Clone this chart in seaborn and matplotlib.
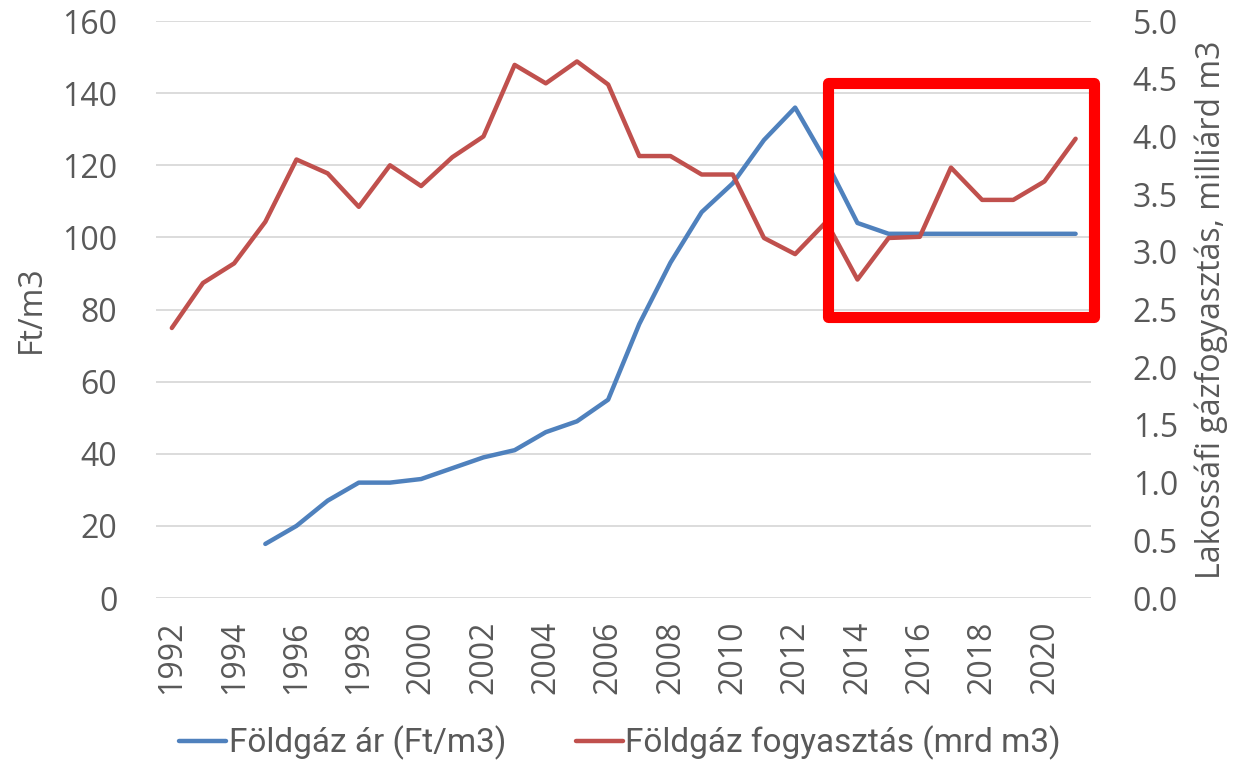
import numpy as np
import pandas as pd
import matplotlib
matplotlib.use("Agg")
import matplotlib.pyplot as plt
from matplotlib.patches import Rectangle
import seaborn as sns

years = list(range(1992, 2022))
price = [np.nan, np.nan, np.nan, 15, 20, 27, 32, 32, 33, 36, 39, 41, 46, 49, 55,
         76, 93, 107, 115, 127, 136, 121, 104, 101, 101, 101, 101, 101, 101, 101]
consumption = [2.34, 2.73, 2.90, 3.26, 3.80, 3.68, 3.39, 3.75, 3.57, 3.82, 4.00,
               4.62, 4.46, 4.65, 4.45, 3.83, 3.83, 3.67, 3.67, 3.12, 2.98, 3.26,
               2.76, 3.12, 3.13, 3.73, 3.45, 3.45, 3.61, 3.98]
price_label = "Földgáz ár (Ft/m3)"
cons_label = "Földgáz fogyasztás (mrd m3)"
left_ylabel = "Ft/m3"
right_ylabel = "Lakossáfi gázfogyasztás, milliárd m3"
left_ticks = [0, 20, 40, 60, 80, 100, 120, 140, 160]
right_ticks = [0.0, 0.5, 1.0, 1.5, 2.0, 2.5, 3.0, 3.5, 4.0, 4.5, 5.0]
xtick_years = list(range(1992, 2021, 2))
# highlight box (data units: years, Ft/m3)
box_x = (2013.05, 2021.59)
box_y = (77.8, 142.9)

sns.set_theme(style="white")
plt.rcParams['font.family'] = ['Open Sans', 'DejaVu Sans']

df = pd.DataFrame({"year": years, "price": price, "cons": consumption})

fig = plt.figure(figsize=(12.4, 7.62), dpi=100)
ax = fig.add_axes([0.126, 0.2152, 0.754, 0.7572])
ax2 = ax.twinx()

blue = "#4F81BD"
red = "#C0504D"
tick_color = "#595959"
fs = 23

sns.lineplot(data=df, x="year", y="price", ax=ax, color=blue, linewidth=3.2,
             label=price_label, legend=False)
sns.lineplot(data=df, x="year", y="cons", ax=ax2, color=red, linewidth=3.2,
             label=cons_label, legend=False)

ax.set_xlim(1991.5, 2021.5)
ax.set_ylim(0, 160)
ax2.set_ylim(0, 5)
ax.set_yticks(left_ticks)
ax2.set_yticks(right_ticks)
ax2.set_yticklabels([f"{v:.1f}" for v in right_ticks])
ax.set_xticks(xtick_years)
ax.set_xticklabels([str(y) for y in xtick_years], rotation=90)

for a in (ax, ax2):
    for s in a.spines.values():
        s.set_visible(False)
    a.tick_params(length=0, labelsize=fs, colors=tick_color)
ax.tick_params(axis='y', pad=28)
ax2.tick_params(axis='y', pad=30)
ax.tick_params(axis='x', pad=16)

ax.grid(axis='y', color="#D9D9D9", linewidth=1.3)
ax.set_axisbelow(True)
ax.set_xlabel("")
ax.set_ylabel(left_ylabel, fontsize=fs, color=tick_color, labelpad=10)
ax2.set_ylabel(right_ylabel, fontsize=fs, color=tick_color, labelpad=12)

ax2.add_patch(Rectangle((box_x[0], box_y[0]), box_x[1] - box_x[0], box_y[1] - box_y[0],
                        transform=ax.transData, fill=False, edgecolor="#FF0000",
                        linewidth=8, joinstyle='round', clip_on=False, zorder=10))

h1, l1 = ax.get_legend_handles_labels()
h2, l2 = ax2.get_legend_handles_labels()
fig.legend(h1 + h2, l1 + l2, loc="lower center", ncol=2, frameon=False,
           bbox_to_anchor=(0.5, -0.037), handlelength=1.4,
           handletextpad=0.08, columnspacing=2.1,
           prop={'family': ['Roboto', 'DejaVu Sans'], 'size': 24},
           labelcolor=tick_color)

fig.savefig("out.png", dpi=100)
